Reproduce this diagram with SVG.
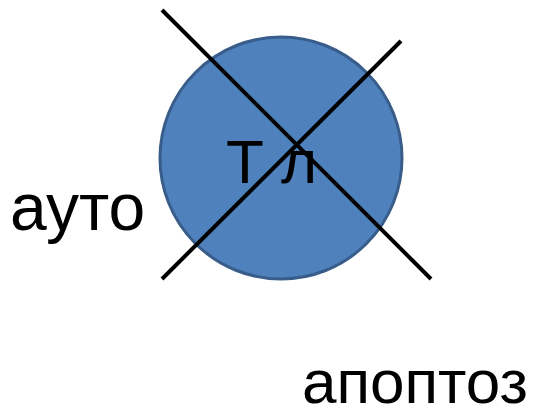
<svg xmlns="http://www.w3.org/2000/svg" width="534" height="415" viewBox="0 0 534 415">
<style>
.t{font-family:"Liberation Sans",Arial,sans-serif;fill:#000;}
.x{stroke:#000;stroke-width:4;stroke-linecap:butt;}
</style>
<rect width="534" height="415" fill="#fff"/>
<g id="cell">
<circle cx="281" cy="158" r="121" fill="#4F81BD" stroke="#385D8A" stroke-width="3"/>
<text class="t" x="226" y="183" font-size="62">Т л</text>
</g>
<g id="connectors">
<line class="x" x1="162" y1="10" x2="431" y2="279"/>
<line class="x" x1="401" y1="41" x2="162" y2="279"/>
</g>
<g id="label-auto">
<text class="t" x="10" y="230" font-size="66">ауто</text>
</g>
<g id="label-apoptoz">
<text class="t" x="302" y="403" font-size="62">апоптоз</text>
</g>
</svg>
